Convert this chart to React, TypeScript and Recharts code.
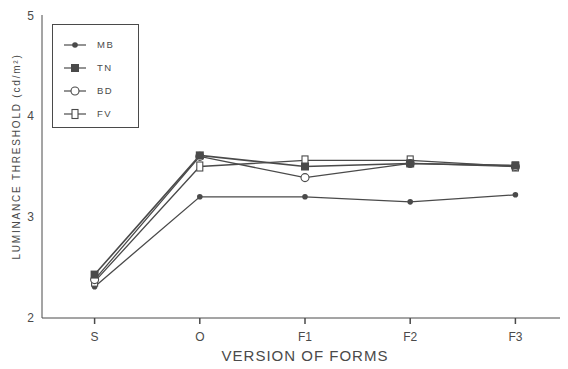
import React from "react";
import { LineChart, Line, XAxis, YAxis } from "recharts";

const categories = ["S", "O", "F1", "F2", "F3"];
const mb = [2.31, 3.2, 3.2, 3.15, 3.22];
const tn = [2.43, 3.61, 3.5, 3.53, 3.51];
const bd = [2.38, 3.6, 3.39, 3.53, 3.5];
const fv = [2.36, 3.5, 3.56, 3.56, 3.5];
const yTicks = [2, 3, 4, 5];

const data = categories.map((c, i) => ({ x: i, name: c, MB: mb[i], TN: tn[i], BD: bd[i], FV: fv[i] }));

const C = "#4a4a4a";
const FONT = "Liberation Sans, Arial, sans-serif";

const DotMB = (p: any) => <circle cx={p.cx} cy={p.cy} r={2.8} fill={C} stroke="none" />;
const DotTN = (p: any) => <rect x={p.cx - 4} y={p.cy - 4} width={8} height={8} fill={C} />;
const DotBD = (p: any) => <circle cx={p.cx} cy={p.cy} r={4} fill="#fff" stroke={C} strokeWidth={1.1} />;
const DotFV = (p: any) => <rect x={p.cx - 3} y={p.cy - 4.5} width={6} height={9} fill="#fff" stroke={C} strokeWidth={1.1} />;

const legendItems = [
  { name: "MB", Dot: DotMB },
  { name: "TN", Dot: DotTN },
  { name: "BD", Dot: DotBD },
  { name: "FV", Dot: DotFV },
];

const LegendBox = () => (
  <div style={{ position: "absolute", left: 44, top: 16, width: 87, height: 104, border: `1px solid ${C}`, boxSizing: "border-box", paddingTop: 8, background: "#fff" }}>
    {legendItems.map((it) => (
      <div key={it.name} style={{ display: "flex", alignItems: "center", height: 23 }}>
        <svg width={42} height={14} style={{ display: "block" }}>
          <line x1={11} y1={7} x2={33} y2={7} stroke={C} strokeWidth={1.2} />
          <it.Dot cx={22} cy={7} />
        </svg>
        <span style={{ fontFamily: FONT, fontSize: 9.5, color: C, letterSpacing: 1.5, marginLeft: 2 }}>{it.name}</span>
      </div>
    ))}
  </div>
);

const YLabel = (props: any) => {
  const vb = props.viewBox || { x: 0, y: 0, width: 0, height: 0 };
  const x = 8;
  const y = vb.y + vb.height / 2 - 10;
  return (
    <text x={x} y={y} transform={`rotate(-90, ${x}, ${y})`} textAnchor="middle" dominantBaseline="central" fill={C} fontSize={10} fontFamily={FONT} letterSpacing={1.8}>
      LUMINANCE THRESHOLD (cd/m²)
    </text>
  );
};

export default function App() {
  return (
    <div style={{ position: "relative", width: 560, height: 361 }}>
      <LineChart width={560} height={361} data={data} margin={{ top: 7, right: 0, left: 0, bottom: 0 }}>
        <XAxis
          dataKey="x"
          type="number"
          domain={[-0.5, 4.5]}
          ticks={[0, 1, 2, 3, 4]}
          tickFormatter={(v: number) => categories[v]}
          height={51}
          stroke={C}
          tickLine={{ stroke: C, strokeWidth: 1.5 }}
          tickSize={6}
          tick={{ fill: C, fontSize: 12, fontFamily: FONT, dy: 6 }}
          label={{ value: "VERSION OF FORMS", position: "insideBottom", offset: 0, dy: -8, fill: C, fontSize: 15, fontFamily: FONT, letterSpacing: 1 }}
        />
        <YAxis
          type="number"
          domain={[2, 5]}
          ticks={yTicks}
          width={34}
          stroke={C}
          tickLine={false}
          tick={{ fill: C, fontSize: 12, fontFamily: FONT }}
          label={<YLabel />}
        />
        <Line dataKey="MB" stroke={C} strokeWidth={1.3} dot={<DotMB />} isAnimationActive={false} />
        <Line dataKey="FV" stroke={C} strokeWidth={1.3} dot={<DotFV />} isAnimationActive={false} />
        <Line dataKey="BD" stroke={C} strokeWidth={1.3} dot={<DotBD />} isAnimationActive={false} />
        <Line dataKey="TN" stroke={C} strokeWidth={1.6} dot={<DotTN />} isAnimationActive={false} />
      </LineChart>
      <LegendBox />
    </div>
  );
}
